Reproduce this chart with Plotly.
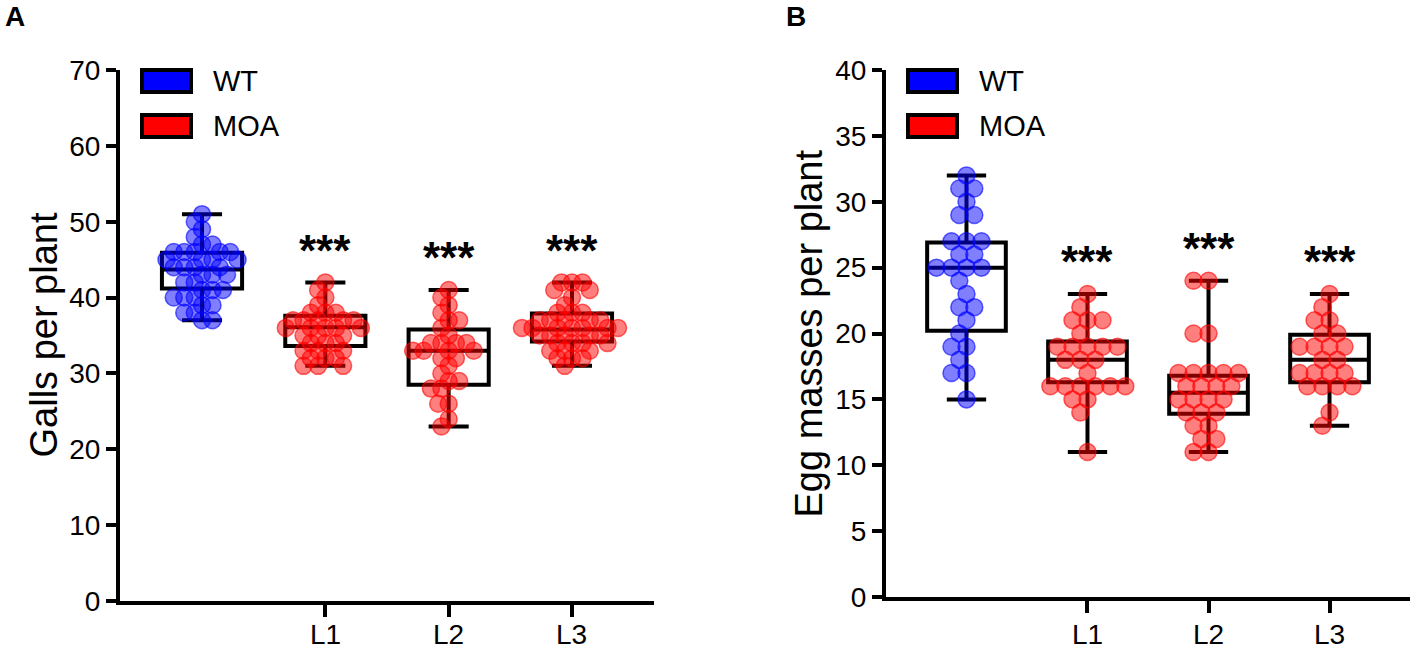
import math
import plotly.graph_objects as go

# ---------------- data ----------------
groups = ["WT", "L1", "L2", "L3"]
tick_labels = ["", "L1", "L2", "L3"]
legend_names = ["WT", "MOA"]
sig_labels = ["", "***", "***", "***"]

# Panel A: galls per plant
galls_wt = [51, 50, 49, 48, 47, 47, 46, 46, 46, 46, 46, 45, 45, 45, 45, 44, 44, 44,
            44, 43, 43, 43, 42, 42, 41, 41, 41, 40, 40, 40, 39, 39, 38, 38, 37, 37]
galls_l1 = [42, 41, 40, 39, 38, 38, 38, 37, 37, 37, 37, 37, 36, 36, 36, 36, 36, 35,
            35, 35, 34, 34, 34, 33, 33, 33, 32, 32, 32, 31, 31, 31]
galls_l2 = [41, 40, 39, 38, 37, 37, 36, 35, 34, 34, 34, 34, 33, 33, 33, 33, 32, 32,
            31, 30, 29, 29, 28, 28, 26, 26, 24, 23]
galls_l3 = [42, 42, 42, 41, 41, 40, 39, 38, 38, 38, 37, 37, 37, 37, 37, 36, 36, 36,
            36, 36, 36, 36, 35, 35, 35, 35, 35, 34, 34, 34, 34, 33, 33, 33, 32, 32, 32, 31]
galls_q1 = [41.2, 33.6, 28.5, 34.2]
galls_median = [43.7, 36.1, 33.0, 35.8]
galls_q3 = [45.9, 37.6, 35.8, 37.9]
galls_min = [37, 31, 23, 31]
galls_max = [51, 42, 41, 42]

# Panel B: egg masses per plant
egg_wt = [32, 31, 31, 30, 29, 29, 27, 27, 27, 26, 26, 25, 25, 25, 25, 24, 23, 22, 22,
          21, 20, 19, 19, 18, 17, 17, 15]
egg_l1 = [23, 22, 21, 21, 21, 20, 19, 19, 19, 19, 19, 18, 18, 18, 17, 16, 16, 16, 16,
          16, 16, 15, 15, 14, 11]
egg_l2 = [24, 24, 20, 20, 17, 17, 17, 17, 17, 16, 16, 16, 16, 15, 15, 15, 15, 14, 14,
          14, 13, 13, 12, 12, 11, 11]
egg_l3 = [23, 22, 21, 21, 20, 20, 19, 19, 19, 19, 18, 18, 17, 17, 17, 17, 16, 16, 16,
          16, 14, 13]
egg_q1 = [20.2, 16.3, 13.9, 16.3]
egg_median = [25, 18, 15.5, 18]
egg_q3 = [26.9, 19.4, 16.8, 19.9]
egg_min = [15, 11, 11, 13]
egg_max = [32, 23, 24, 23]

# ---------------- layout constants ----------------
W, H = 1418, 652
FONT = "Arial, Liberation Sans, Helvetica, sans-serif"
FILL = ["rgba(0,0,255,0.5)", "rgba(255,0,0,0.5)", "rgba(255,0,0,0.5)", "rgba(255,0,0,0.5)"]
EDGE = ["rgba(0,0,255,0.6)", "rgba(255,0,0,0.6)", "rgba(255,0,0,0.6)", "rgba(255,0,0,0.6)"]
SOLID = ["#0000ff", "#ff0000"]
XRANGE = [-0.665, 3.665]

panels = [
    dict(xd=(120, 654), yd=(70, 601), yr=(0, 70), dt=10, title="Galls per plant",
         data=[galls_wt, galls_l1, galls_l2, galls_l3], sw=10.5, tx=43, lx=3,
         q1=galls_q1, med=galls_median, q3=galls_q3, lo=galls_min, hi=galls_max, letter="A"),
    dict(xd=(886, 1410), yd=(70, 597), yr=(0, 40), dt=5, title="Egg masses per plant",
         data=[egg_wt, egg_l1, egg_l2, egg_l3], sw=15.0, tx=808, lx=784,
         q1=egg_q1, med=egg_median, q3=egg_q3, lo=egg_min, hi=egg_max, letter="B"),
]


def swarm(values, d_px, py_unit):
    order = sorted(range(len(values)), key=lambda i: -values[i])
    placed = []
    offs = [0.0] * len(values)
    for i in order:
        y = values[i] * py_unit
        cands = [0.0]
        for (px_, py_) in placed:
            dy = abs(py_ - y)
            if dy < d_px:
                dx = math.sqrt(d_px ** 2 - dy ** 2)
                cands += [px_ + dx, px_ - dx]
        cands.sort(key=lambda c: (round(abs(c), 3), c))
        best = 0.0
        for c in cands:
            if all((c - a) ** 2 + (y - b) ** 2 >= d_px ** 2 - 1e-6 for a, b in placed):
                best = c
                break
        placed.append((best, y))
        offs[i] = best
    return offs


fig = go.Figure()
shapes, annotations = [], []
for k, p in enumerate(panels):
    xa = "x" if k == 0 else "x2"
    ya = "y" if k == 0 else "y2"
    px_unit = (p["xd"][1] - p["xd"][0]) / (XRANGE[1] - XRANGE[0])
    py_unit = (p["yd"][1] - p["yd"][0]) / (p["yr"][1] - p["yr"][0])
    # boxes
    for g in range(len(groups)):
        fig.add_trace(go.Box(
            x=[g], q1=[p["q1"][g]], median=[p["med"][g]], q3=[p["q3"][g]],
            lowerfence=[p["lo"][g]], upperfence=[p["hi"][g]],
            width=0.65, whiskerwidth=0.5, boxpoints=False,
            fillcolor="rgba(0,0,0,0)", line=dict(color="black", width=4),
            xaxis=xa, yaxis=ya, showlegend=False, hoverinfo="skip"))
    # points
    for g in range(len(groups)):
        vals = p["data"][g]
        offs = swarm(vals, p["sw"], py_unit)
        fig.add_trace(go.Scatter(
            x=[g + o / px_unit for o in offs], y=vals, mode="markers",
            marker=dict(size=17, color=FILL[g], line=dict(color=EDGE[g], width=1.5)),
            xaxis=xa, yaxis=ya, showlegend=False, name=groups[g]))
    # significance stars and x tick labels
    for g in range(len(groups)):
        if sig_labels[g]:
            annotations.append(dict(
                x=g, y=p["hi"][g] + 38 / py_unit, xref=xa, yref=ya,
                text="<b>%s</b>" % sig_labels[g],
                showarrow=False, font=dict(size=44, family=FONT, color="black"),
                yanchor="middle", xanchor="center", yshift=-6))
        if tick_labels[g]:
            annotations.append(dict(
                x=g, y=1 - 634 / H, xref=xa, yref="paper", text=tick_labels[g],
                showarrow=False, yanchor="middle", xanchor="center",
                font=dict(size=28, family=FONT, color="black")))
    # legend (manual)
    lx0 = p["xd"][0] + 22
    for j, name in enumerate(legend_names):
        yc = 81 + 45 * j
        shapes.append(dict(type="rect", xref="paper", yref="paper",
                           x0=lx0 / W, x1=(lx0 + 49) / W,
                           y0=1 - (yc - 11) / H, y1=1 - (yc + 11) / H,
                           fillcolor=SOLID[j], line=dict(color="black", width=4)))
        annotations.append(dict(x=(lx0 + 69) / W, y=1 - yc / H, xref="paper", yref="paper",
                                text=name, showarrow=False, xanchor="left", yanchor="middle",
                                font=dict(size=29, family=FONT, color="black")))
    # panel letter
    annotations.append(dict(x=p["lx"] / W, y=1 - 17 / H, xref="paper", yref="paper",
                            text="<b>%s</b>" % p["letter"], showarrow=False,
                            xanchor="left", yanchor="middle",
                            font=dict(size=28, family=FONT, color="black")))
    # y-axis title
    annotations.append(dict(x=p["tx"] / W, y=1 - (p["yd"][0] + p["yd"][1]) / 2 / H,
                            xref="paper", yref="paper", text=p["title"], textangle=-90,
                            showarrow=False, xanchor="center", yanchor="middle",
                            font=dict(size=38, family=FONT, color="black")))

axis_common = dict(showgrid=False, zeroline=False, showline=True, linecolor="black",
                   linewidth=4, ticks="outside", tickwidth=4, tickcolor="black",
                   automargin=False,
                   tickfont=dict(size=28, family=FONT, color="black"))

layout = dict(
    width=W, height=H, margin=dict(l=0, r=0, t=0, b=0, autoexpand=False),
    plot_bgcolor="white", paper_bgcolor="white",
    shapes=shapes, annotations=annotations, showlegend=False,
)
for k, p in enumerate(panels):
    sx = "" if k == 0 else "2"
    layout["xaxis" + sx] = dict(
        axis_common, domain=[p["xd"][0] / W, p["xd"][1] / W], range=XRANGE,
        tickvals=[1, 2, 3], showticklabels=False, ticklen=12,
        anchor="y" + sx)
    layout["yaxis" + sx] = dict(
        axis_common, domain=[1 - p["yd"][1] / H, 1 - p["yd"][0] / H],
        range=list(p["yr"]), dtick=p["dt"], tick0=0, ticklen=10,
        anchor="x" + sx)

fig.update_layout(**layout)
fig.write_html("out.html", config={"displayModeBar": False},
               post_script="document.body.style.margin='0';document.body.style.overflow='hidden';")
